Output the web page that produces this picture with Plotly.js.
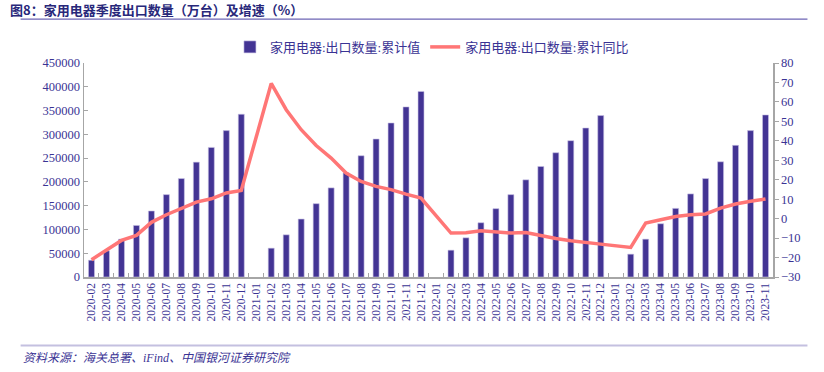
<!DOCTYPE html>
<html>
<head>
<meta charset="utf-8">
<script src="https://cdn.plot.ly/plotly-3.0.1.min.js"></script>
<style>html,body{margin:0;padding:0;background:#fff;}#chart{width:824px;height:372px;}</style>
</head>
<body>
<div id="chart"></div>
<script>
const categories = [
  "2020-02","2020-03","2020-04","2020-05","2020-06","2020-07","2020-08","2020-09","2020-10","2020-11","2020-12",
  "2021-01","2021-02","2021-03","2021-04","2021-05","2021-06","2021-07","2021-08","2021-09","2021-10","2021-11","2021-12",
  "2022-01","2022-02","2022-03","2022-04","2022-05","2022-06","2022-07","2022-08","2022-09","2022-10","2022-11","2022-12",
  "2023-01","2023-02","2023-03","2023-04","2023-05","2023-06","2023-07","2023-08","2023-09","2023-10","2023-11"
];
const cumulativeValue = [
  35300, 55000, 79600, 108400, 138800, 173200, 207000, 241500, 272500, 307800, 342300,
  null, 60600, 88700, 121900, 154200, 187400, 219000, 255000, 290100, 323900, 357700, 390200,
  null, 56400, 82400, 114100, 143700, 173200, 204300, 232400, 261300, 286700, 313300, 339500,
  null, 48000, 79600, 112000, 144300, 174700, 207000, 242300, 276800, 307800, 340800
];
const cumulativeYoY = [
  -21.1, -16.3, -11.2, -8.6, -1.9, 2.0, 5.4, 8.5, 10.2, 13.2, 14.5,
  null, 69.5, 56.0, 45.7, 37.6, 31.1, 23.4, 19.1, 16.6, 14.9, 12.6, 10.6,
  null, -7.4, -7.2, -6.2, -6.6, -7.4, -7.1, -8.8, -10.2, -11.4, -12.4, -13.1,
  null, -14.8, -2.3, -0.6, 1.1, 2.0, 2.4, 5.4, 7.5, 8.9, 10.1
];
const seriesNames = ["家用电器:出口数量:累计值", "家用电器:出口数量:累计同比"];

const txtColor = "#3A3394";
const fontFam = "'Liberation Serif', 'Noto Sans CJK SC', serif";

const traces = [
  {
    type: "bar", name: seriesNames[0], x: categories, y: cumulativeValue,
    marker: {color: "#433494", line: {color: "#C9C3E6", width: 0.6}},
    width: 0.4, yaxis: "y"
  },
  {
    type: "scatter", mode: "lines", name: seriesNames[1], x: categories, y: cumulativeYoY,
    line: {color: "#FF7676", width: 3.5}, connectgaps: true, yaxis: "y2"
  }
];

const layout = {
  width: 824, height: 372,
  margin: {l: 84, r: 51, t: 63, b: 95},
  paper_bgcolor: "#fff", plot_bgcolor: "#fff",
  font: {family: fontFam, color: txtColor, size: 12},
  showlegend: true,
  legend: {
    orientation: "h", x: 0.505, xanchor: "center", y: 1.075, yanchor: "middle",
    font: {size: 13, color: txtColor, family: fontFam}, traceorder: "normal",
    itemwidth: 30
  },
  bargap: 0.6,
  xaxis: {
    type: "category", tickangle: -90, tickfont: {size: 11.5, color: txtColor, family: fontFam},
    showline: true, linecolor: "#A6A6A6", linewidth: 1.5,
    ticks: "inside", tickson: "boundaries", ticklen: 4, tickcolor: "#A6A6A6",
    showgrid: false, zeroline: false, range: [-0.5, 45.5]
  },
  yaxis: {
    range: [0, 450000], dtick: 50000, tickformat: "d",
    showline: true, linecolor: "#A6A6A6", linewidth: 1.5,
    ticks: "inside", ticklen: 4, tickcolor: "#A6A6A6",
    showgrid: false, zeroline: false,
    tickfont: {size: 12.5, color: txtColor, family: fontFam}
  },
  yaxis2: {
    range: [-30, 80], dtick: 10, overlaying: "y", side: "right",
    showline: true, linecolor: "#A6A6A6", linewidth: 1.5,
    ticks: "outside", ticklen: 4, tickcolor: "#A6A6A6",
    showgrid: false, zeroline: false,
    tickfont: {size: 12.5, color: txtColor, family: fontFam}
  },
  shapes: [
    {type: "line", xref: "paper", yref: "paper", x0: -0.092, x1: 1.05, y0: 1.205, y1: 1.205,
     line: {color: "#6C64B4", width: 1.2}},
    {type: "line", xref: "paper", yref: "paper", x0: -0.092, x1: 1.05, y0: -0.32, y1: -0.32,
     line: {color: "#C4C0E0", width: 2}}
  ],
  annotations: [
    {text: "<b>图8：家用电器季度出口数量（万台）及增速（%）</b>", xref: "paper", yref: "paper",
     x: -0.11, y: 1.248, xanchor: "left", yanchor: "middle", showarrow: false,
     font: {size: 13, color: "#28287A", family: "'Noto Sans CJK SC', sans-serif"}},
    {text: "<i>资料来源：海关总署、iFind、中国银河证券研究院</i>", xref: "paper", yref: "paper",
     x: -0.092, y: -0.38, xanchor: "left", yanchor: "middle", showarrow: false,
     font: {size: 12, color: txtColor, family: fontFam}}
  ]
};

Plotly.newPlot("chart", traces, layout, {displayModeBar: false, staticPlot: true});
</script>
</body>
</html>
